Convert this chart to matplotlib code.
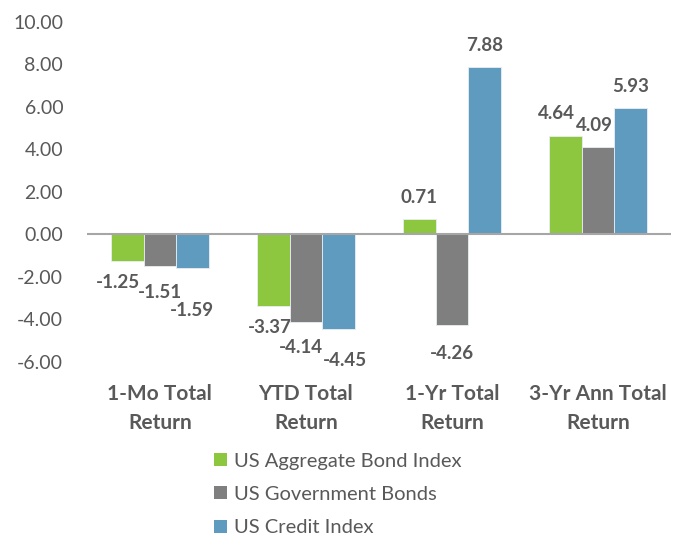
import matplotlib.pyplot as plt
import numpy as np
from matplotlib.patches import Patch

plt.rcParams['font.family'] = ['Lato', 'DejaVu Sans']

# === DATA ===
categories = ['1-Mo Total\nReturn', 'YTD Total\nReturn', '1-Yr Total\nReturn', '3-Yr Ann Total\nReturn']
series_names = ['US Aggregate Bond Index', 'US Government Bonds', 'US Credit Index']
aggregate = [-1.25, -3.37, 0.71, 4.64]
government = [-1.51, -4.14, -4.26, 4.09]
credit = [-1.59, -4.45, 7.88, 5.93]
yticks = [-6, -4, -2, 0, 2, 4, 6, 8, 10]

colors = ['#8dc63f', '#7f7f7f', '#5f9bbf']
text_color = '#595959'

# label nudges in pixels (dx, dy) for each series/category, matching the hand-placed labels
label_nudge = [
    [(-9, 0), (-3, 0), (0, 0), (-9, 0)],
    [(0, -4), (-5, -3), (0, -7), (-3, 0)],
    [(0, -20), (6, -10), (0, 0), (0, 0)],
]

# === PLOT ===
fig = plt.figure(figsize=(6.73, 5.36), dpi=100)
ax = fig.add_axes([0.129, 0.325, 0.868, 0.634])

x = np.arange(len(categories))
width = 0.223
all_series = [aggregate, government, credit]

for i, (vals, col) in enumerate(zip(all_series, colors)):
    pos = x + (i - 1) * width
    bars = ax.bar(pos, vals, width, color=col, edgecolor='#e8eef2', linewidth=0.6, zorder=2)
    for j, (b, v) in enumerate(zip(bars, vals)):
        dx, dy = label_nudge[i][j]
        base = 22 if v >= 0 else -22
        ax.annotate(f'{v:.2f}', (b.get_x() + b.get_width() / 2, v),
                    xytext=(dx, base + dy), textcoords='offset pixels',
                    ha='center', va='center', fontsize=13.5, fontweight='bold',
                    color=text_color)

ax.axhline(0, color='#a6a6a6', linewidth=1.5, zorder=3)

ax.set_xlim(-0.5, 3.5)
ax.set_ylim(-6, 10)
ax.set_yticks(yticks)
ax.set_yticklabels([f'{t:.2f}' for t in yticks], fontsize=14, color=text_color)
ax.set_xticks(x)
ax.set_xticklabels(categories, fontsize=15, fontweight='bold', color=text_color,
                   linespacing=1.55)
ax.tick_params(axis='both', length=0)
ax.tick_params(axis='x', pad=16)
ax.tick_params(axis='y', pad=17)
for s in ax.spines.values():
    s.set_visible(False)

handles = [Patch(facecolor=c, label=n) for c, n in zip(colors, series_names)]
fig.legend(handles=handles, loc='upper left', bbox_to_anchor=(0.318, 0.155),
           frameon=False, fontsize=14.5, handlelength=0.62, handleheight=0.62,
           handletextpad=0.35, labelspacing=0.8, borderaxespad=0, borderpad=0,
           labelcolor=text_color)

fig.savefig('out.png', dpi=100)
